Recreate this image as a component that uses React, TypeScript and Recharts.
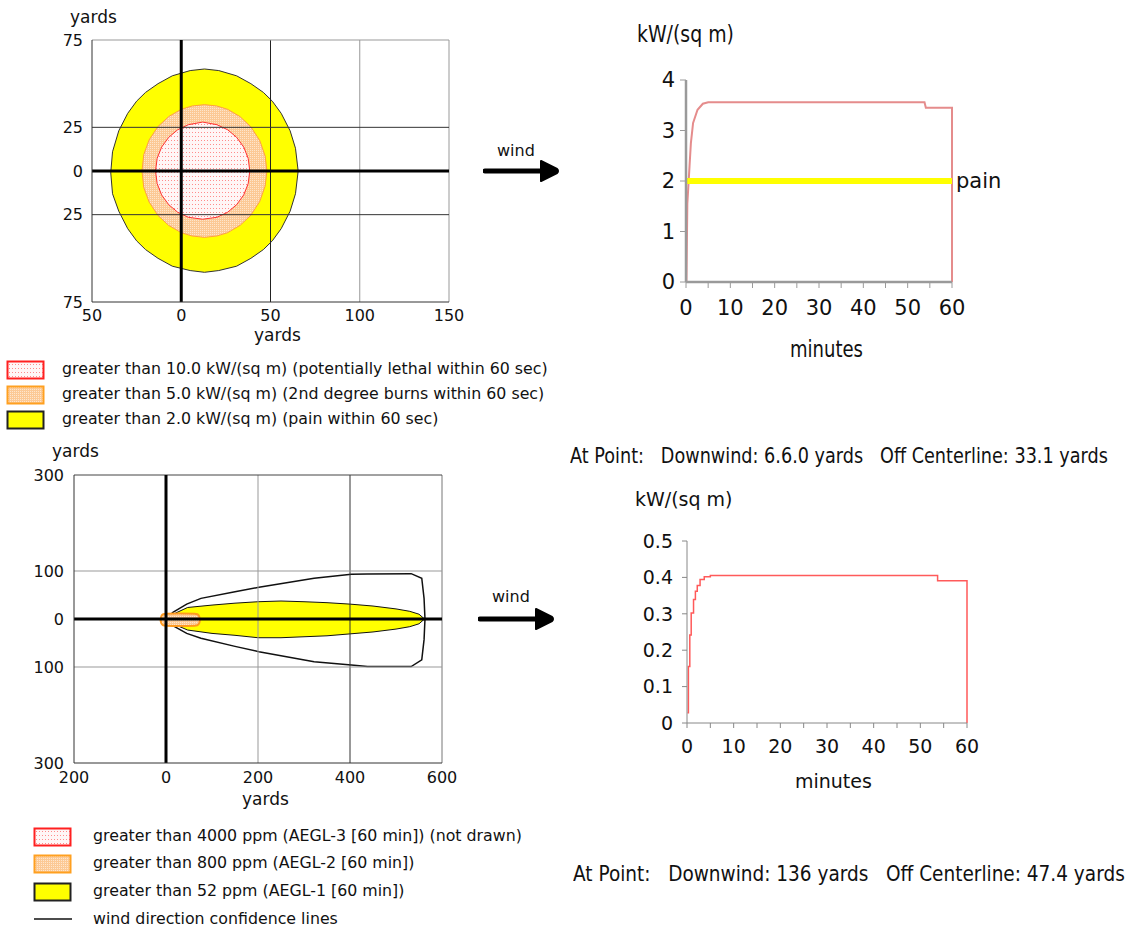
import React, { useLayoutEffect, useRef, useState } from 'react';
import { ComposedChart, LineChart, Line, Area, XAxis, YAxis, ReferenceLine } from 'recharts';

// thermal radiation threat zones, yards: [downwind, low edge, high edge]
const lethalZone = [
  [-14.4, 0, 0], [-13.5, -7.2, 7.2], [-11, -13.7, 13.7], [-7, -19.3, 19.3], [-2, -23.6, 23.6],
  [4, -26.5, 26.5], [12, -27.6, 28], [20, -26.5, 26.5], [26, -23.6, 23.6], [31, -19.3, 19.3],
  [35, -13.7, 13.7], [37.5, -7.2, 7.2], [38.4, 0, 0],
];
const burnZone = [
  [-22, 0, 0], [-21, -9.4, 9.4], [-18, -17.8, 17.8], [-13, -25.5, 25.5], [-7, -31.2, 31.2],
  [0, -35.3, 35.3], [6, -37.2, 37.2], [13, -38, 38], [20, -37.2, 37.2], [26, -35.3, 35.3],
  [33, -31.1, 31.1], [39, -25.3, 25.3], [44, -17.4, 17.4], [47, -8.6, 8.6], [48, 0, 0],
];
const painZone = [
  [-39.5, -1, -1], [-38.5, -13, 11], [-35, -23, 23], [-30, -33, 33], [-25, -40, 40], [-20, -45, 45],
  [-13, -50, 50], [-5, -54.5, 54.5], [5, -57, 57.5], [13, -58, 58.4], [21, -57, 57.5],
  [31, -54.5, 54.5], [39, -50, 50], [46, -45, 45], [51, -40, 40], [56, -33, 33], [61, -23, 23],
  [64, -13, 13], [65.5, 0, 0],
];

// toxic threat zones, yards
const aegl2Zone = [
  [-12, -2, -2], [-10, -9, 6], [-6, -13, 10], [0, -14, 11], [30, -14.5, 11.5], [62, -14, 11],
  [68, -13, 10], [72, -9, 6], [74, -2, -2],
];
const aegl1Zone = [
  [2, 0, 0], [20, -12, 12], [47, -23, 24], [100, -30, 29], [150, -34, 33], [200, -39, 36],
  [250, -39, 37.5], [300, -37, 36], [350, -35, 34], [400, -31, 31], [450, -27, 27],
  [500, -21, 21], [530, -16, 16], [550, -10, 10], [562, 0, 0],
];
const confidenceLines = [
  [0, 0, 0], [15, -14, 14], [45, -30, 31], [76, -40, 43], [150, -57, 57], [202, -68, 66],
  [322, -89, 85], [403, -96, 93], [438, -99, 94], [533, -99, 94.5], [556, -85, 85],
  [561, -43, 43], [563, 0, 0],
];

// thermal radiation at point vs time
const heatMinutes = [0.1, 0.3, 0.8, 1.1, 1.6, 2.6, 3.8, 5, 53.8, 54.1, 60, 60];
const heatFlux = [0, 1.55, 2.3, 2.75, 3.15, 3.41, 3.53, 3.56, 3.56, 3.45, 3.45, 0];
const PAIN_LEVEL = 2;

const pointMinutes = [0.1, 0.3, 0.6, 0.9, 1.4, 1.8, 2.2, 2.8, 3.7, 5, 53.7, 60];
const pointFlux = [0.028, 0.155, 0.242, 0.302, 0.339, 0.362, 0.378, 0.394, 0.402, 0.405, 0.391, 0];

const heatXTicks = [-50, 0, 50, 100, 150];
const heatYTicks = [-75, -25, 0, 25, 75];
const toxicXTicks = [-200, 0, 200, 400, 600];
const toxicYTicks = [-300, -100, 0, 100, 300];
const minuteTicks = [0, 5, 10, 15, 20, 25, 30, 35, 40, 45, 50, 55, 60];
const heatFluxTicks = [0, 1, 2, 3, 4];
const pointFluxTicks = [0, 0.1, 0.2, 0.3, 0.4, 0.5];

const VERDANA = "'DejaVu Sans', Verdana, sans-serif";

const toBand = (rows: number[][]) => rows.map(([x, lo, hi]) => ({ x, band: [lo, hi] }));
const abs = (v: number) => String(Math.abs(v));
const everyTen = (v: number) => (v % 10 === 0 ? String(v) : '');

const Text = ({ x, y, size, children }: any) => (
  <div
    style={{
      position: 'absolute', left: x, top: y, fontSize: size, fontFamily: VERDANA,
      lineHeight: 1, whiteSpace: 'pre', color: '#111',
    }}
  >
    {children}
  </div>
);

// squeezed text, as in the right-hand panels of the source: measure, then scale to width
const NarrowText = ({ x, y, size, width, children }: any) => {
  const ref = useRef<SVGTextElement>(null);
  const [k, setK] = useState(1);
  useLayoutEffect(() => {
    const natural = ref.current ? ref.current.getComputedTextLength() : 0;
    if (natural > 0) setK(width / natural);
  }, [width]);
  return (
    <svg style={{ position: 'absolute', left: x, top: y }} width={width + 4} height={size * 1.3}>
      <text
        ref={ref} x={0} y={size} fontSize={size} fontFamily={VERDANA} fill="#111"
        transform={`scale(${k},1)`} style={{ whiteSpace: 'pre' }}
      >
        {children}
      </text>
    </svg>
  );
};

const Swatch = ({ x, y, kind }: any) => {
  const fill = kind === 'lethal' ? 'url(#dotRed)' : kind === 'burn' ? 'url(#dotOrange)' : '#ffff00';
  const stroke = kind === 'lethal' ? '#ff2020' : kind === 'burn' ? '#ffa020' : '#222';
  return (
    <svg style={{ position: 'absolute', left: x, top: y }} width={40} height={20}>
      {kind === 'line' ? (
        <line x1={1} x2={39} y1={10} y2={10} stroke="#111" strokeWidth={1.5} />
      ) : (
        <rect x={1.5} y={1.5} width={36} height={17} fill={fill} stroke={stroke} strokeWidth={2} />
      )}
    </svg>
  );
};

const WindArrow = ({ x, y }: any) => (
  <svg style={{ position: 'absolute', left: x, top: y }} width={80} height={30}>
    <line x1={2} x2={62} y1={15} y2={15} stroke="#000" strokeWidth={5} strokeLinecap="round" />
    <path d="M58 5 L74 13 Q76 15 74 17 L58 25 Z" fill="#000" stroke="#000" strokeLinejoin="round" strokeWidth={2} />
  </svg>
);

const ZonePlot = ({ left, top, width, height, margin, yWidth, xHeight, xDomain, yDomain, xTicks, yTicks, tickMargin, grids, children }: any) => (
  <div style={{ position: 'absolute', left, top }}>
    <ComposedChart width={width} height={height} margin={margin}>
      <XAxis
        type="number" dataKey="x" domain={xDomain} ticks={xTicks} interval={0} allowDataOverflow
        tickFormatter={abs} tickLine={false} tickSize={0} tickMargin={tickMargin} height={xHeight}
        axisLine={{ stroke: '#333' }} tick={{ fill: '#111', fontSize: 16, fontFamily: VERDANA }}
      />
      <YAxis
        type="number" domain={yDomain} ticks={yTicks} interval={0} allowDataOverflow
        tickFormatter={abs} tickLine={false} tickSize={0} tickMargin={tickMargin + 1} width={yWidth}
        axisLine={{ stroke: '#333' }} tick={{ fill: '#111', fontSize: 16, fontFamily: VERDANA }}
      />
      {children}
      {grids.map((g: any, i: number) => (
        <ReferenceLine key={i} x={g.x} y={g.y} stroke={g.color} strokeWidth={g.w || 1} />
      ))}
    </ComposedChart>
  </div>
);

export default function App() {
  const heatRows = heatMinutes.map((t, i) => ({ t, flux: heatFlux[i] }));
  const pointRows = pointMinutes.map((t, i) => ({ t, flux: pointFlux[i] }));

  return (
    <div style={{ position: 'absolute', left: 0, top: 0, width: 1132, height: 927, background: '#fff', fontFamily: VERDANA }}>
      <svg width={0} height={0} style={{ position: 'absolute' }}>
        <defs>
          <pattern id="dotRed" width={3} height={4} patternUnits="userSpaceOnUse">
            <rect width={3} height={4} fill="#fff6f6" />
            <rect width={1} height={1} fill="#ff8c8c" />
          </pattern>
          <pattern id="dotOrange" width={2} height={2} patternUnits="userSpaceOnUse">
            <rect width={2} height={2} fill="#fcc995" />
            <rect width={1} height={1} fill="#fee6cc" />
          </pattern>
        </defs>
      </svg>

      {/* thermal threat zone */}
      <Text x={70} y={9} size={17}>yards</Text>
      <ZonePlot
        left={0} top={0} width={470} height={345}
        margin={{ top: 40, right: 21, bottom: 0, left: 52 }} yWidth={40} xHeight={43}
        xDomain={[-50, 150]} yDomain={[-75, 75]} xTicks={heatXTicks} yTicks={heatYTicks} tickMargin={8}
        grids={[
          { x: 50, color: '#222' }, { x: 100, color: '#999' }, { x: 150, color: '#999' },
          { y: 25, color: '#333' }, { y: -25, color: '#333' }, { y: 75, color: '#999' },
          { x: 0, color: '#000', w: 3 }, { y: 0, color: '#000', w: 3 },
        ]}
      >
        <Area data={toBand(painZone)} dataKey="band" type="linear" fill="#ffff00" fillOpacity={1} stroke="#333" strokeWidth={1} isAnimationActive={false} />
        <Area data={toBand(burnZone)} dataKey="band" type="linear" fill="url(#dotOrange)" fillOpacity={1} stroke="#ffa040" strokeWidth={1} isAnimationActive={false} />
        <Area data={toBand(lethalZone)} dataKey="band" type="linear" fill="url(#dotRed)" fillOpacity={1} stroke="#ff3030" strokeWidth={1} isAnimationActive={false} />
      </ZonePlot>
      <Text x={254} y={327} size={17}>yards</Text>

      <Swatch x={6} y={360} kind="lethal" />
      <Text x={62} y={361} size={15.8}>greater than 10.0 kW/(sq m) (potentially lethal within 60 sec)</Text>
      <Swatch x={6} y={385} kind="burn" />
      <Text x={62} y={386} size={15.8}>greater than 5.0 kW/(sq m) (2nd degree burns within 60 sec)</Text>
      <Swatch x={6} y={410} kind="pain" />
      <Text x={62} y={411} size={15.8}>greater than 2.0 kW/(sq m) (pain within 60 sec)</Text>

      <Text x={497} y={143} size={16}>wind</Text>
      <WindArrow x={483} y={156} />

      {/* thermal radiation at point */}
      <NarrowText x={637} y={19} size={23} width={97}>kW/(sq m)</NarrowText>
      <div style={{ position: 'absolute', left: 630, top: 40 }}>
        <LineChart width={400} height={300} data={heatRows} margin={{ top: 40, right: 78, bottom: 0, left: 26 }}>
          <XAxis
            type="number" dataKey="t" domain={[0, 60]} ticks={minuteTicks} interval={0} tickFormatter={everyTen}
            height={58} tickSize={6} tickMargin={12} stroke="#9a9a9a" axisLine={{ stroke: '#9a9a9a', strokeWidth: 2.5 }}
            tick={{ fill: '#111', fontSize: 21, fontFamily: VERDANA }}
          />
          <YAxis
            type="number" domain={[0, 4]} ticks={heatFluxTicks} interval={0} width={30}
            tickSize={6} tickMargin={5} stroke="#9a9a9a" axisLine={{ stroke: '#9a9a9a', strokeWidth: 2.5 }}
            tick={{ fill: '#111', fontSize: 21, fontFamily: VERDANA }}
          />
          <Line dataKey="flux" type="linear" stroke="#e58c8c" strokeWidth={2} dot={false} isAnimationActive={false} />
          <ReferenceLine
            y={PAIN_LEVEL} stroke="#ffff00" strokeWidth={6}
            label={{ value: 'pain', position: 'right', fill: '#111', fontSize: 21, fontFamily: VERDANA, offset: 4 }}
          />
        </LineChart>
      </div>
      <NarrowText x={790} y={334} size={23} width={73}>minutes</NarrowText>
      <NarrowText x={570} y={441} size={22} width={538}>{'At Point:   Downwind: 6.6.0 yards   Off Centerline: 33.1 yards'}</NarrowText>

      {/* toxic threat zone */}
      <Text x={52} y={443} size={17}>yards</Text>
      <ZonePlot
        left={0} top={440} width={460} height={370}
        margin={{ top: 35, right: 18, bottom: 0, left: 34 }} yWidth={40} xHeight={47}
        xDomain={[-200, 600]} yDomain={[-300, 300]} xTicks={toxicXTicks} yTicks={toxicYTicks} tickMargin={9}
        grids={[
          { x: 200, color: '#999' }, { x: 400, color: '#333' }, { x: 600, color: '#777' },
          { y: 100, color: '#999' }, { y: -100, color: '#999' }, { y: 300, color: '#444' },
          { x: 0, color: '#000', w: 3 }, { y: 0, color: '#000', w: 3 },
        ]}
      >
        <Area data={toBand(confidenceLines)} dataKey="band" type="linear" fill="none" stroke="#111" strokeWidth={1.5} isAnimationActive={false} />
        <Area data={toBand(aegl1Zone)} dataKey="band" type="linear" fill="#ffff00" fillOpacity={1} stroke="#111" strokeWidth={1} isAnimationActive={false} />
        <Area data={toBand(aegl2Zone)} dataKey="band" type="monotone" fill="url(#dotOrange)" fillOpacity={1} stroke="#ff9a20" strokeWidth={2} isAnimationActive={false} />
      </ZonePlot>
      <Text x={242} y={791} size={17}>yards</Text>

      <Swatch x={33} y={827} kind="lethal" />
      <Text x={93} y={828} size={15.8}>greater than 4000 ppm (AEGL-3 [60 min]) (not drawn)</Text>
      <Swatch x={33} y={854} kind="burn" />
      <Text x={93} y={855} size={15.8}>greater than 800 ppm (AEGL-2 [60 min])</Text>
      <Swatch x={33} y={882} kind="pain" />
      <Text x={93} y={883} size={15.8}>greater than 52 ppm (AEGL-1 [60 min])</Text>
      <Swatch x={33} y={909} kind="line" />
      <Text x={93} y={911} size={15.8}>wind direction confidence lines</Text>

      <Text x={492} y={589} size={16}>wind</Text>
      <WindArrow x={478} y={604} />

      {/* point exposure over time */}
      <Text x={635} y={490} size={19}>kW/(sq m)</Text>
      <div style={{ position: 'absolute', left: 630, top: 520 }}>
        <LineChart width={360} height={260} data={pointRows} margin={{ top: 21, right: 23, bottom: 0, left: 17 }}>
          <XAxis
            type="number" dataKey="t" domain={[0, 60]} ticks={minuteTicks} interval={0} tickFormatter={everyTen}
            height={57} tickSize={5} tickMargin={12} stroke="#888"
            tick={{ fill: '#111', fontSize: 19, fontFamily: VERDANA }}
          />
          <YAxis
            type="number" domain={[0, 0.5]} ticks={pointFluxTicks} interval={0} width={40}
            tickFormatter={(v: number) => (v === 0 ? '0' : v.toFixed(1))}
            tickSize={5} tickMargin={9} stroke="#888"
            tick={{ fill: '#111', fontSize: 19, fontFamily: VERDANA }}
          />
          <Line dataKey="flux" type="stepAfter" stroke="#ff5a5a" strokeWidth={1.5} dot={false} isAnimationActive={false} />
        </LineChart>
      </div>
      <Text x={795} y={772} size={19}>minutes</Text>
      <NarrowText x={573} y={859} size={22} width={552}>{'At Point:   Downwind: 136 yards   Off Centerline: 47.4 yards'}</NarrowText>
    </div>
  );
}
